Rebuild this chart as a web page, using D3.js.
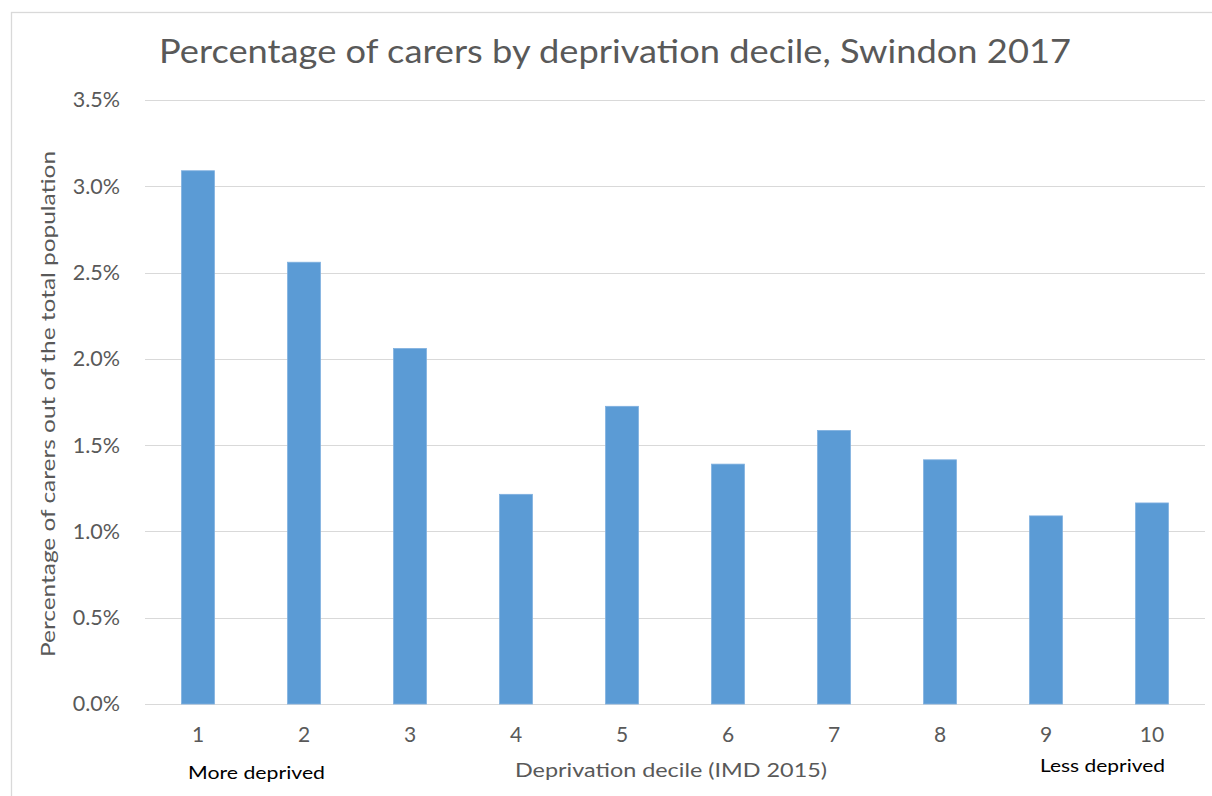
<!DOCTYPE html>
<html>
<head>
<meta charset="utf-8">
<script src="https://cdn.jsdelivr.net/npm/d3@7"></script>
<style>
  html, body { margin: 0; padding: 0; background: #fff; }
  svg { display: block; }
  text { font-family: Lato, "Open Sans", "Liberation Sans", sans-serif; }
</style>
</head>
<body>
<svg id="chart" width="1212" height="796"></svg>
<script>
// Deprivation deciles (1 = most deprived) and share of carers in each
const deciles = ["1", "2", "3", "4", "5", "6", "7", "8", "9", "10"];
const carerPct = [3.09, 2.56, 2.06, 1.215, 1.725, 1.39, 1.585, 1.415, 1.09, 1.165];
const yTicks = [0, 0.5, 1.0, 1.5, 2.0, 2.5, 3.0, 3.5];

const titleText = "Percentage of carers by deprivation decile, Swindon 2017";
const yTitle = "Percentage of carers out of the total population";
const xTitle = "Deprivation decile (IMD 2015)";
const leftNote = "More deprived";
const rightNote = "Less deprived";

const svg = d3.select("#chart");
const W = 1212, H = 796;
const plot = { left: 145, right: 1205, top: 100, bottom: 704 };

// chart frame
svg.append("rect")
  .attr("x", 11.5).attr("y", 12.5)
  .attr("width", W + 10).attr("height", H + 10)
  .attr("fill", "#fff").attr("stroke", "#d9d9d9").attr("stroke-width", 1.3);

const x = d3.scaleBand()
  .domain(deciles)
  .range([plot.left, plot.right])
  .paddingInner(0.69)
  .paddingOuter(0.345);

const y = d3.scaleLinear()
  .domain([0, 3.5])
  .range([plot.bottom, plot.top]);

// horizontal gridlines
svg.append("g")
  .selectAll("line")
  .data(yTicks)
  .join("line")
  .attr("x1", plot.left).attr("x2", plot.right)
  .attr("y1", d => Math.round(y(d)) + 0.5).attr("y2", d => Math.round(y(d)) + 0.5)
  .attr("stroke", "#d9d9d9").attr("stroke-width", 1);

// y-axis tick labels
const yAxis = d3.axisLeft(y)
  .tickValues(yTicks)
  .tickFormat(d => d.toFixed(1) + "%")
  .tickSize(0)
  .tickPadding(25);
const gy = svg.append("g")
  .attr("transform", `translate(${plot.left},0)`)
  .call(yAxis);
gy.select(".domain").remove();
gy.selectAll("text")
  .attr("fill", "#595959")
  .style("font-size", "21.5px");

// bars
svg.append("g")
  .selectAll("rect")
  .data(carerPct)
  .join("rect")
  .attr("x", (d, i) => x(deciles[i]))
  .attr("y", d => y(d))
  .attr("width", x.bandwidth())
  .attr("height", d => y(0) - y(d))
  .attr("fill", "#5b9bd5")
  .attr("stroke", "#7fb0df")
  .attr("stroke-width", 0.8);

// x-axis tick labels
const xAxis = d3.axisBottom(x).tickSize(0).tickPadding(23);
const gx = svg.append("g")
  .attr("transform", `translate(0,${plot.bottom})`)
  .call(xAxis);
gx.select(".domain").remove();
gx.selectAll("text")
  .attr("fill", "#595959")
  .style("font-size", "21px");

// title
svg.append("text")
  .attr("x", 615).attr("y", 63)
  .attr("text-anchor", "middle")
  .attr("fill", "#595959")
  .style("font-size", "33px")
  .attr("textLength", 912).attr("lengthAdjust", "spacingAndGlyphs")
  .text(titleText);

// y-axis title
svg.append("text")
  .attr("transform", "translate(55,404) rotate(-90)")
  .attr("text-anchor", "middle")
  .attr("fill", "#595959")
  .style("font-size", "19.5px")
  .attr("textLength", 506).attr("lengthAdjust", "spacingAndGlyphs")
  .text(yTitle);

// x-axis title
svg.append("text")
  .attr("x", 671).attr("y", 777)
  .attr("text-anchor", "middle")
  .attr("fill", "#595959")
  .style("font-size", "19.5px")
  .attr("textLength", 312).attr("lengthAdjust", "spacingAndGlyphs")
  .text(xTitle);

// end-of-scale notes
svg.append("text")
  .attr("x", 188).attr("y", 779)
  .attr("fill", "#000")
  .style("font-size", "17.5px")
  .attr("textLength", 137).attr("lengthAdjust", "spacingAndGlyphs")
  .text(leftNote);

svg.append("text")
  .attr("x", 1040).attr("y", 772)
  .attr("fill", "#000")
  .style("font-size", "17.5px")
  .attr("textLength", 125).attr("lengthAdjust", "spacingAndGlyphs")
  .text(rightNote);
</script>
</body>
</html>
